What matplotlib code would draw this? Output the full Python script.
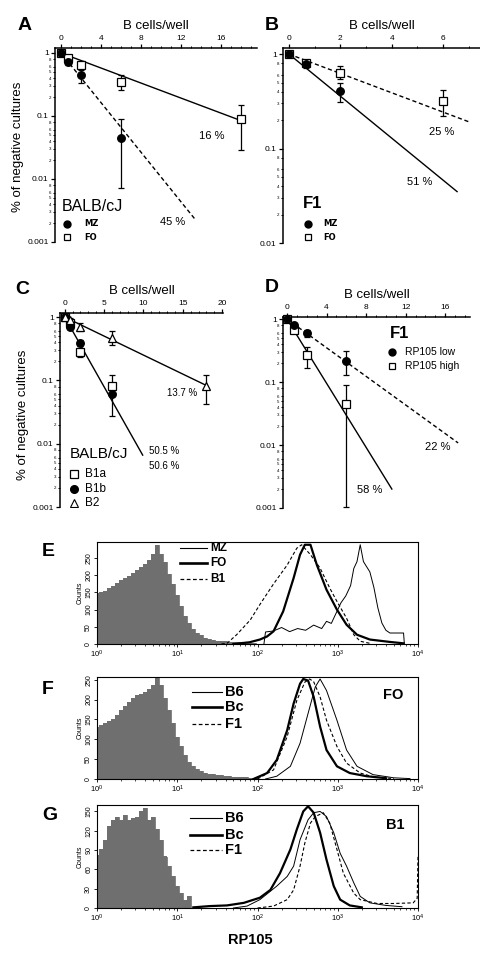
import numpy as np
import matplotlib
matplotlib.use("Agg")
import matplotlib.pyplot as plt
from matplotlib.ticker import FixedLocator, FuncFormatter

plt.rcParams['font.family'] = ['Liberation Sans', 'DejaVu Sans']

W, H = 481, 958

# ---------------- limiting dilution data ----------------
# A: BALB/cJ, MZ vs FO
a_mz_x = [0, 0.67, 2, 6]
a_mz_y = [1, 0.72, 0.45, 0.045]
a_mz_lo = [1, 0.65, 0.33, 0.0072]
a_mz_hi = [1, 0.80, 0.53, 0.09]
a_fo_x = [0, 0.67, 2, 6, 18]
a_fo_y = [1, 0.82, 0.65, 0.35, 0.09]
a_fo_lo = [1, 0.75, 0.55, 0.26, 0.029]
a_fo_hi = [1, 0.90, 0.75, 0.45, 0.15]
a_fit_fo = ([0, 18.3], [1, 0.081])
a_fit_mz = ([0, 13.5], [1, 0.0022])

# B: F1, MZ vs FO
b_mz_x = [0, 0.67, 2]
b_mz_y = [1, 0.78, 0.41]
b_mz_lo = [1, 0.72, 0.31]
b_mz_hi = [1, 0.84, 0.49]
b_fo_x = [0, 0.67, 2, 6]
b_fo_y = [1, 0.80, 0.63, 0.32]
b_fo_lo = [1, 0.74, 0.54, 0.22]
b_fo_hi = [1, 0.86, 0.74, 0.42]
b_fit_fo = ([0, 7.04], [1, 0.19])
b_fit_mz = ([0, 6.54], [1, 0.035])

# C: BALB/cJ, B1a / B1b / B2
c_b1a_x = [0, 0.67, 2, 6]
c_b1a_y = [1, 0.80, 0.28, 0.083]
c_b1a_lo = [1, 0.75, 0.23, 0.06]
c_b1a_hi = [1, 0.85, 0.33, 0.12]
c_b1b_x = [0, 0.67, 2, 6]
c_b1b_y = [1, 0.69, 0.39, 0.06]
c_b1b_lo = [1, 0.65, 0.35, 0.027]
c_b1b_hi = [1, 0.74, 0.43, 0.08]
c_b2_x = [0, 0.67, 2, 6, 18]
c_b2_y = [1, 0.90, 0.70, 0.46, 0.083]
c_b2_lo = [1, 0.85, 0.60, 0.36, 0.043]
c_b2_hi = [1, 0.95, 0.80, 0.60, 0.12]
c_fit_b1 = ([0, 9.9], [1, 0.0066])
c_fit_b2 = ([0, 18], [1, 0.083])

# D: F1, RP105 low / high
d_low_x = [0, 0.67, 2, 6]
d_low_y = [1, 0.80, 0.60, 0.22]
d_low_lo = [1, 0.74, 0.52, 0.13]
d_low_hi = [1, 0.86, 0.68, 0.31]
d_high_x = [0, 0.67, 2, 6]
d_high_y = [1, 0.68, 0.27, 0.045]
d_high_lo = [1, 0.62, 0.17, 0.00105]
d_high_hi = [1, 0.74, 0.36, 0.09]
d_fit_low = ([0, 17.3], [1, 0.0108])
d_fit_high = ([0, 10.6], [1, 0.002])

# ---------------- flow histogram data (log10 RP105, counts) ----------------
gray_e_log = np.arange(0, 2.01, 0.05)
gray_e_cnt = [148, 150, 155, 162, 170, 178, 186, 192, 198, 208, 216, 225, 233, 245, 262, 288,
              262, 240, 205, 175, 143, 112, 82, 60, 44, 33, 25, 18, 14, 12, 10, 9, 8, 7, 6, 5,
              4, 3, 3, 2, 1]
e_mz_log = [2.08, 2.1, 2.2, 2.3, 2.4, 2.5, 2.6, 2.7, 2.8, 2.86, 2.92, 2.98, 3.04, 3.1, 3.16, 3.2,
            3.24, 3.28, 3.32, 3.36, 3.4, 3.45, 3.5, 3.55, 3.6, 3.65, 3.75, 3.82, 3.83]
e_mz_cnt = [0, 35, 38, 48, 36, 45, 40, 55, 45, 66, 60, 90, 120, 140, 170, 220,
            240, 289, 240, 225, 210, 165, 105, 61, 40, 32, 32, 32, 0]
e_fo_log = [1.7, 1.9, 2.03, 2.12, 2.2, 2.32, 2.45, 2.53, 2.59, 2.66, 2.74, 2.86, 2.99, 3.11, 3.24,
            3.4, 3.65, 3.82]
e_fo_cnt = [0, 5, 13, 22, 37, 95, 192, 260, 289, 289, 230, 158, 100, 56, 27, 13, 6, 2]
e_b1_log = [1.55, 1.62, 1.74, 1.91, 2.03, 2.2, 2.37, 2.49, 2.55, 2.66, 2.78, 2.9, 2.99, 3.11, 3.2,
            3.28, 3.4]
e_b1_cnt = [0, 2, 27, 70, 115, 175, 230, 279, 289, 260, 221, 163, 124, 75, 27, 8, 2]

gray_f_log = np.arange(0, 2.01, 0.05)
gray_f_cnt = [132, 135, 140, 146, 152, 162, 173, 184, 194, 203, 211, 215, 219, 226, 236, 255,
              236, 205, 173, 140, 107, 82, 61, 44, 32, 24, 19, 15, 13, 12, 11, 9, 8, 7, 6, 5,
              5, 4, 3, 2, 2]
f_b6_log = [2.1, 2.24, 2.41, 2.53, 2.63, 2.72, 2.78, 2.86, 2.99, 3.11, 3.24, 3.44, 3.7, 3.9]
f_b6_cnt = [0, 7, 32, 90, 165, 232, 252, 223, 148, 73, 32, 11, 3, 1]
f_bc_log = [1.95, 2.12, 2.24, 2.37, 2.45, 2.53, 2.57, 2.63, 2.7, 2.78, 2.86, 2.99, 3.15, 3.36, 3.6]
f_bc_cnt = [0, 15, 48, 123, 190, 240, 252, 248, 207, 132, 73, 32, 15, 7, 2]
f_f1_log = [2.0, 2.2, 2.37, 2.49, 2.59, 2.65, 2.7, 2.78, 2.86, 2.99, 3.11, 3.28, 3.45, 3.7]
f_f1_cnt = [0, 23, 107, 198, 244, 252, 245, 207, 148, 82, 40, 15, 5, 1]

gray_g_log = np.arange(0, 1.21, 0.05)
gray_g_cnt = [83, 91, 106, 127, 137, 142, 137, 145, 137, 140, 142, 150, 155, 137, 142, 122,
              106, 80, 65, 49, 34, 23, 13, 18, 0]
g_b6_log = [1.7, 1.87, 2.03, 2.24, 2.37, 2.45, 2.53, 2.63, 2.7, 2.78, 2.86, 2.95, 3.03, 3.11, 3.2,
            3.28, 3.4, 3.6, 3.8]
g_b6_cnt = [0, 3, 13, 34, 49, 65, 106, 137, 148, 150, 142, 117, 85, 65, 39, 18, 8, 4, 2]
g_bc_log = [1.2, 1.41, 1.62, 1.83, 2.03, 2.16, 2.28, 2.41, 2.49, 2.57, 2.63, 2.7, 2.78, 2.86, 2.95,
            3.03, 3.15, 3.3]
g_bc_cnt = [1, 3, 4, 8, 16, 28, 54, 91, 122, 150, 158, 148, 117, 75, 34, 13, 4, 1]
g_f1_log = [2.0, 2.2, 2.37, 2.45, 2.53, 2.59, 2.66, 2.72, 2.82, 2.9, 2.99, 3.07, 3.2, 3.28, 3.49,
            3.69, 3.94, 3.99, 4.0]
g_f1_cnt = [0, 3, 13, 28, 65, 101, 132, 142, 148, 132, 91, 54, 23, 13, 7, 7, 8, 15, 80]


fig = plt.figure(figsize=(W / 100, H / 100), dpi=100)


def px_axes(left, top, right, bottom):
    return fig.add_axes([left / W, 1 - bottom / H, (right - left) / W, (bottom - top) / H])


def ftext(x, y, s, **kw):
    kw.setdefault('ha', 'center')
    kw.setdefault('va', 'center')
    fig.text(x / W, 1 - y / H, s, **kw)


def dilution_axes(rect, xlim, ylim, xticks, minor_step):
    ax = px_axes(*rect)
    ax.set_yscale('log')
    ax.set_xlim(*xlim)
    ax.set_ylim(*ylim)
    for s in ['right', 'bottom']:
        ax.spines[s].set_visible(False)
    for s in ['left', 'top']:
        ax.spines[s].set_linewidth(1.1)
    ax.xaxis.tick_top()
    ax.set_xticks(xticks)
    ax.set_xticks(np.arange(0, xlim[1] + 0.01, minor_step), minor=True)
    dec = np.log10(ylim[0])
    majors = [10.0 ** k for k in range(int(round(dec)), 1)]
    ax.yaxis.set_major_locator(FixedLocator(majors))
    ax.yaxis.set_major_formatter(FuncFormatter(lambda v, p: '%g' % v))
    minors = [m * 10.0 ** k for k in range(int(round(dec)), 0) for m in [2, 3, 4, 5, 6, 8]]
    ax.yaxis.set_minor_locator(FixedLocator(minors))
    ax.yaxis.set_minor_formatter(FuncFormatter(lambda v, p: '%d' % round(v / 10 ** np.floor(np.log10(v) + 1e-9))))
    ax.tick_params(which='major', length=3, width=0.9, labelsize=6, pad=1.5)
    ax.tick_params(which='minor', length=1.8, width=0.7, labelsize=3.2, pad=1)
    ax.tick_params(axis='x', which='minor', labelsize=0)
    ax.set_xlabel('B cells/well', fontsize=9.5, labelpad=4)
    ax.xaxis.set_label_position('top')
    return ax


def series(ax, x, y, lo, hi, marker, filled, ms=5.5):
    y = np.array(y)
    err = [y - np.array(lo), np.array(hi) - y]
    ax.errorbar(x, y, yerr=err, fmt=marker, ms=ms, mfc='black' if filled else 'white',
                mec='black', mew=0.9, ecolor='black', elinewidth=0.9, capsize=2, capthick=0.9,
                zorder=3, clip_on=False)


dash = (0, (3, 2))

# ---------------- Panel A ----------------
ax = dilution_axes((55, 48, 257, 242), (-0.6, 19.6), (0.001, 1.2), [0, 4, 8, 12, 16], 1)
ax.plot(*a_fit_fo, color='black', lw=1.0)
ax.plot(*a_fit_mz, color='black', lw=1.0, ls=dash)
series(ax, a_fo_x, a_fo_y, a_fo_lo, a_fo_hi, 's', False)
series(ax, a_mz_x, a_mz_y, a_mz_lo, a_mz_hi, 'o', True)
ax.text(15.1, 0.048, '16 %', fontsize=8, ha='center', va='center')
ax.text(11.15, 0.0021, '45 %', fontsize=8, ha='center', va='center')
ax.text(0.1, 0.0037, 'BALB/cJ', fontsize=11.5, ha='left', va='center')
ax.plot([0.6], [0.00194], 'o', ms=5, color='black')
ax.plot([0.6], [0.0012], 's', ms=5, mfc='white', mec='black', mew=0.9)
ax.text(2.3, 0.00194, 'MZ', fontsize=6, weight='bold', family='DejaVu Sans', va='center')
ax.text(2.3, 0.0012, 'FO', fontsize=6, weight='bold', family='DejaVu Sans', va='center')
ftext(18, 147, '% of negative cultures', fontsize=9.5, rotation=90)
ftext(25, 25, 'A', fontsize=14, weight='bold')

# ---------------- Panel B ----------------
ax = dilution_axes((283, 48, 481, 243), (-0.23, 7.47), (0.01, 1.16), [0, 2, 4, 6], 1)
ax.plot(*b_fit_mz, color='black', lw=1.0)
ax.plot(*b_fit_fo, color='black', lw=1.0, ls=dash)
series(ax, b_fo_x, b_fo_y, b_fo_lo, b_fo_hi, 's', False)
series(ax, b_mz_x, b_mz_y, b_mz_lo, b_mz_hi, 'o', True)
ax.text(5.95, 0.15, '25 %', fontsize=8, ha='center', va='center')
ax.text(5.1, 0.044, '51 %', fontsize=8, ha='center', va='center')
ax.text(0.55, 0.026, 'F1', fontsize=12, weight='bold', ha='left', va='center')
ax.plot([0.74], [0.016], 'o', ms=5, color='black')
ax.plot([0.74], [0.0115], 's', ms=5, mfc='white', mec='black', mew=0.9)
ax.text(1.32, 0.016, 'MZ', fontsize=6, weight='bold', family='DejaVu Sans', va='center')
ax.text(1.32, 0.0115, 'FO', fontsize=6, weight='bold', family='DejaVu Sans', va='center')
ftext(272, 25, 'B', fontsize=14, weight='bold')

# ---------------- Panel C ----------------
ax = dilution_axes((60, 313, 223, 507), (-0.6, 20.1), (0.001, 1.16), [0, 5, 10, 15, 20], 1)
ax.plot(*c_fit_b1, color='black', lw=1.0)
ax.plot(*c_fit_b2, color='black', lw=1.0)
series(ax, c_b1a_x, c_b1a_y, c_b1a_lo, c_b1a_hi, 's', False)
series(ax, c_b1b_x, c_b1b_y, c_b1b_lo, c_b1b_hi, 'o', True)
series(ax, c_b2_x, c_b2_y, c_b2_lo, c_b2_hi, '^', False, ms=6)
ax.text(14.9, 0.063, '13.7 %', fontsize=7, ha='center', va='center')
ax.text(12.6, 0.0076, '50.5 %', fontsize=7, ha='center', va='center')
ax.text(12.6, 0.0045, '50.6 %', fontsize=7, ha='center', va='center')
ax.text(0.64, 0.0068, 'BALB/cJ', fontsize=11, ha='left', va='center')
ax.plot([1.15], [0.0033], 's', ms=5.5, mfc='white', mec='black', mew=0.9)
ax.plot([1.15], [0.0019], 'o', ms=5.5, color='black')
ax.plot([1.15], [0.00115], '^', ms=5.5, mfc='white', mec='black', mew=0.8)
ax.text(2.55, 0.0033, 'B1a', fontsize=8.5, va='center')
ax.text(2.55, 0.0019, 'B1b', fontsize=8.5, va='center')
ax.text(2.55, 0.00115, 'B2', fontsize=8.5, va='center')
ftext(23, 415, '% of negative cultures', fontsize=9.5, rotation=90)
ftext(22, 290, 'C', fontsize=14, weight='bold')

# ---------------- Panel D ----------------
ax = dilution_axes((283, 317, 470, 508), (-0.4, 18.5), (0.001, 1.08), [0, 4, 8, 12, 16], 1)
ax.plot(*d_fit_high, color='black', lw=1.0)
ax.plot(*d_fit_low, color='black', lw=1.0, ls=dash)
series(ax, d_high_x, d_high_y, d_high_lo, d_high_hi, 's', False)
series(ax, d_low_x, d_low_y, d_low_lo, d_low_hi, 'o', True)
ax.text(15.25, 0.0093, '22 %', fontsize=8, ha='center', va='center')
ax.text(8.4, 0.0019, '58 %', fontsize=8, ha='center', va='center')
ax.text(10.4, 0.6, 'F1', fontsize=12, weight='bold', ha='left', va='center')
ax.plot([10.6], [0.3], 'o', ms=5, color='black', clip_on=False)
ax.plot([10.6], [0.18], 's', ms=5, mfc='white', mec='black', mew=0.9)
ax.text(11.9, 0.3, 'RP105 low', fontsize=7.5, va='center')
ax.text(11.9, 0.18, 'RP105 high', fontsize=7.5, va='center')
ftext(272, 288, 'D', fontsize=14, weight='bold')


# ---------------- Histograms ----------------
def hist_axes(rect, ymax, yticks):
    ax = px_axes(*rect)
    ax.set_xscale('log')
    ax.set_xlim(1, 1e4)
    ax.set_ylim(0, ymax)
    ax.set_yticks(yticks)
    for s in ax.spines.values():
        s.set_linewidth(0.8)
    ax.tick_params(which='major', length=2.5, width=0.6, labelsize=5.5, pad=1)
    ax.tick_params(which='minor', length=1.3, width=0.5)
    ax.tick_params(axis='y', labelrotation=90, labelsize=5)
    for lbl in ax.get_yticklabels():
        lbl.set_va('center')
    ax.set_ylabel('Counts', fontsize=5, labelpad=1)
    return ax


gray = '#6f6f6f'


def gray_hist(ax, lx, cnt):
    ax.fill_between(10 ** np.asarray(lx), cnt, step='mid', color=gray, lw=0)
    ax.step(10 ** np.asarray(lx), cnt, where='mid', color=gray, lw=0.6)


def legend3(x0, x1, ys, labels, tx, size):
    styles = [dict(lw=0.8, ls='-'), dict(lw=1.9, ls='-'), dict(lw=0.9, ls=(0, (3, 2)))]
    for y, lab, st in zip(ys, labels, styles):
        fig.add_artist(plt.Line2D([x0 / W, x1 / W], [1 - y / H, 1 - y / H], color='black',
                                  transform=fig.transFigure, **st))
        ftext(tx, y, lab, fontsize=size, weight='bold', ha='left')


# E
ax = hist_axes((97, 542, 418, 644), 297, [0, 50, 100, 150, 200, 250])
gray_hist(ax, gray_e_log, gray_e_cnt)
ax.plot(10 ** np.array(e_b1_log), e_b1_cnt, color='black', lw=0.8, ls=(0, (3, 2)))
ax.plot(10 ** np.array(e_mz_log), e_mz_cnt, color='black', lw=0.7)
ax.plot(10 ** np.array(e_fo_log), e_fo_cnt, color='black', lw=1.6)
legend3(180, 207, [548, 563, 579], ['MZ', 'FO', 'B1'], 210, 8.5)
ftext(48, 552, 'E', fontsize=14, weight='bold')

# F
ax = hist_axes((97, 677, 418, 779), 257, [0, 50, 100, 150, 200, 250])
gray_hist(ax, gray_f_log, gray_f_cnt)
ax.plot(10 ** np.array(f_b6_log), f_b6_cnt, color='black', lw=0.7)
ax.plot(10 ** np.array(f_f1_log), f_f1_cnt, color='black', lw=0.8, ls=(0, (3, 2)))
ax.plot(10 ** np.array(f_bc_log), f_bc_cnt, color='black', lw=1.6)
legend3(192, 222, [692, 707, 724], ['B6', 'Bc', 'F1'], 225, 10.5)
ftext(393, 695, 'FO', fontsize=10.5, weight='bold')
ftext(48, 690, 'F', fontsize=14, weight='bold')

# G
ax = hist_axes((97, 805, 418, 908), 160, [0, 30, 60, 90, 120, 150])
gray_hist(ax, gray_g_log, gray_g_cnt)
ax.plot(10 ** np.array(g_b6_log), g_b6_cnt, color='black', lw=0.7)
ax.plot(10 ** np.array(g_f1_log), g_f1_cnt, color='black', lw=0.8, ls=(0, (3, 2)))
ax.plot(10 ** np.array(g_bc_log), g_bc_cnt, color='black', lw=1.6)
legend3(190, 222, [818, 835, 850], ['B6', 'Bc', 'F1'], 225, 10.5)
ftext(395, 825, 'B1', fontsize=10.5, weight='bold')
ftext(50, 815, 'G', fontsize=14, weight='bold')
ftext(250, 940, 'RP105', fontsize=10.5, weight='bold')

fig.savefig('out.png', dpi=100)
